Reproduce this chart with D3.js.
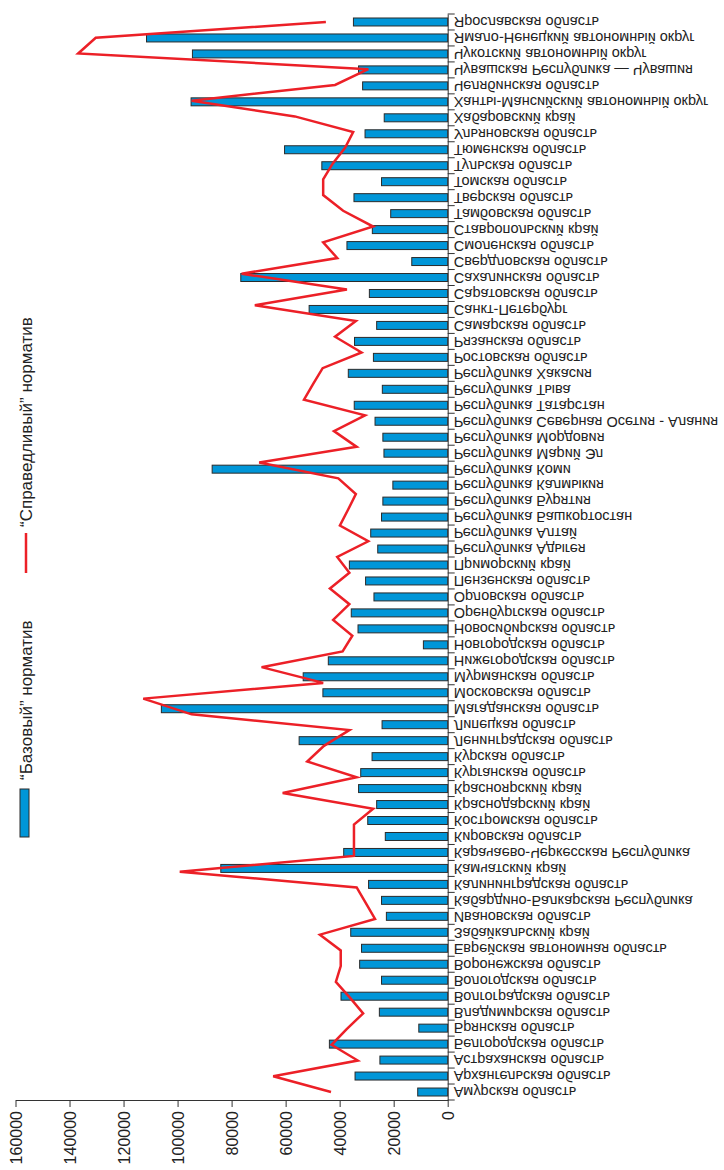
<!DOCTYPE html>
<html>
<head>
<meta charset="utf-8">
<script src="https://cdn.jsdelivr.net/npm/d3@7"></script>
<style>
  body { margin: 0; background: #fff; }
  text { font-family: "Liberation Sans", Arial, sans-serif; fill: #222; }
  .domain, .tick line { stroke: #333; }
</style>
</head>
<body>
<script>
var regions = [
  "Амурская область", "Архангельская область", "Астраханская область", "Белгородская область",
  "Брянская область", "Владимирская область", "Волгоградская область", "Вологодская область",
  "Воронежская область", "Еврейская автономная область", "Забайкальский край", "Ивановская область",
  "Кабардино-Балкарская Республика", "Калининградская область", "Камчатский край",
  "Карачаево-Черкесская Республика", "Кировская область", "Костромская область", "Краснодарский край",
  "Красноярский край", "Курганская область", "Курская область", "Ленинградская область",
  "Липецкая область", "Магаданская область", "Московская область", "Мурманская область",
  "Нижегородская область", "Новгородская область", "Новосибирская область", "Оренбургская область",
  "Орловская область", "Пензенская область", "Приморский край", "Республика Адыгея",
  "Республика Алтай", "Республика Башкортостан", "Республика Бурятия", "Республика Калмыкия",
  "Республика Коми", "Республика Марий Эл", "Республика Мордовия",
  "Республика Северная Осетия - Алания", "Республика Татарстан", "Республика Тыва",
  "Республика Хакасия", "Ростовская область", "Рязанская область", "Самарская область",
  "Санкт-Петербург", "Саратовская область", "Сахалинская область", "Свердловская область",
  "Смоленская область", "Ставропольский край", "Тамбовская область", "Тверская область",
  "Томская область", "Тульская область", "Тюменская область", "Ульяновская область",
  "Хабаровский край", "Ханты-Мансийский автономный округ", "Челябинская область",
  "Чувашская Республика — Чувашия", "Чукотский автономный округ",
  "Ямало-Ненецкий автономный округ", "Ярославская область"
];

// "Базовый" норматив, one per region
var baseValues = [
  11100, 34300, 25100, 43800, 10700, 25300, 39500, 24500, 32600, 31900,
  35900, 22700, 24500, 29300, 84000, 38500, 23100, 29600, 26300, 33000,
  32200, 28000, 55000, 24300, 106000, 46200, 53500, 44200, 9000, 33200,
  35700, 27300, 30400, 36400, 25900, 28500, 24500, 24000, 20300, 87200,
  23600, 24000, 26900, 34600, 24200, 36800, 27500, 34500, 26300, 51300,
  29000, 76600, 13300, 37300, 27900, 21100, 34700, 24500, 46600, 60400,
  30600, 23500, 95000, 31500, 33000, 94500, 111500, 34900
];

// "Справедливый" норматив (the line has its own 69 points)
var fairValues = [
  43200, 64600, 33300, 43000, 37400, 31300, 36200, 41400, 39600, 39600,
  47300, 26900, 30300, 33700, 99200, 34700, 34700, 34700, 27600, 61100,
  33700, 52000, 45800, 36400, 94800, 112700, 46100, 68900, 38900, 35300,
  42400, 36400, 43600, 36400, 40900, 29400, 39900, 36900, 34000, 40500,
  69800, 33700, 42100, 30600, 53200, 49800, 46300, 31900, 41700, 34000,
  71400, 37300, 76300, 40900, 46100, 27600, 38700, 46100, 46100, 42600,
  38000, 35000, 56600, 94800, 41700, 29400, 136800, 130300, 45100
];

var valueTicks = [0, 20000, 40000, 60000, 80000, 100000, 120000, 140000, 160000];

var width = 724,
  height = 1170,
  plotLeft = 15.5,
  axisX = 447.7,
  plotTop = 14,
  axisY = 1100;

var svg = d3.select("body").append("svg")
  .attr("width", width)
  .attr("height", height);

var x = d3.scaleLinear()
  .domain([0, 160000])
  .range([axisX, plotLeft]);

var y = d3.scaleBand()
  .domain(regions)
  .range([axisY, plotTop])
  .paddingInner(0.5)
  .paddingOuter(0.25);

var step = y.step();

var yLine = d3.scalePoint()
  .domain(d3.range(fairValues.length))
  .range([y(regions[0]) + y.bandwidth() / 2, y(regions[regions.length - 1]) + y.bandwidth() / 2]);

// bars
svg.append("g").selectAll("rect")
  .data(baseValues)
  .enter().append("rect")
  .attr("x", function(d) { return x(d); })
  .attr("y", function(d, i) { return y(regions[i]); })
  .attr("width", function(d) { return axisX - x(d); })
  .attr("height", y.bandwidth())
  .attr("fill", "#0096d8")
  .attr("stroke", "#2b2b2b")
  .attr("stroke-width", 1);

// value axis
var xAxis = svg.append("g")
  .attr("transform", "translate(0," + axisY + ")")
  .call(d3.axisBottom(x).tickValues(valueTicks).tickFormat(d3.format("d")).tickSize(7).tickSizeOuter(0));

xAxis.selectAll("text")
  .attr("y", 0)
  .attr("x", -11)
  .attr("dy", ".35em")
  .attr("transform", "rotate(-90)")
  .style("text-anchor", "end")
  .style("font-size", "16px");

// category axis, labels flipped as in the picture
var yAxis = svg.append("g")
  .attr("transform", "translate(" + axisX + ",0)")
  .call(d3.axisRight(y).tickSize(0).tickPadding(6).tickSizeOuter(0));

yAxis.selectAll("text")
  .attr("transform", "scale(1,-1)")
  .style("font-size", "14.5px");

yAxis.selectAll(".boundary")
  .data(d3.range(regions.length + 1))
  .enter().append("line")
  .attr("class", "boundary")
  .attr("x1", 0)
  .attr("x2", 7)
  .attr("y1", function(i) { return axisY - i * step; })
  .attr("y2", function(i) { return axisY - i * step; })
  .attr("stroke", "#333");

// fair line
var line = d3.line()
  .x(function(d) { return x(d); })
  .y(function(d, i) { return yLine(i); });

svg.append("path")
  .datum(fairValues)
  .attr("d", line)
  .attr("fill", "none")
  .attr("stroke", "#ec2027")
  .attr("stroke-width", 2.5)
  .attr("stroke-linejoin", "miter");

// legend
var legend = svg.append("g");

legend.append("rect")
  .attr("x", 20)
  .attr("y", 789)
  .attr("width", 9)
  .attr("height", 48)
  .attr("fill", "#0096d8")
  .attr("stroke", "#2b2b2b");

legend.append("text")
  .attr("transform", "translate(26,780) rotate(-90)")
  .attr("dy", ".35em")
  .style("font-size", "17px")
  .text("“Базовый” норматив");

legend.append("line")
  .attr("x1", 26)
  .attr("x2", 26)
  .attr("y1", 533)
  .attr("y2", 573)
  .attr("stroke", "#ec2027")
  .attr("stroke-width", 2.5);

legend.append("text")
  .attr("transform", "translate(26,527) rotate(-90)")
  .attr("dy", ".35em")
  .style("font-size", "17px")
  .text("“Справедливый” норматив");
</script>
</body>
</html>
